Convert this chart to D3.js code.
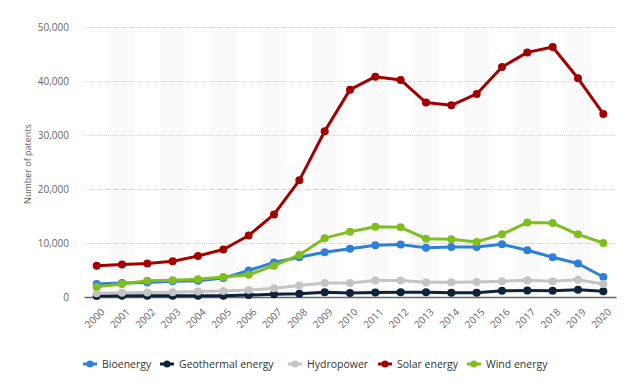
<!DOCTYPE html>
<html>
<head>
<meta charset="utf-8">
<script src="https://cdn.jsdelivr.net/npm/d3@7"></script>
<style>
  body { margin: 0; background: #fff; font-family: "Open Sans", sans-serif; }
</style>
</head>
<body>
<div id="chart"></div>
<script>
const years = ["2000","2001","2002","2003","2004","2005","2006","2007","2008","2009","2010",
  "2011","2012","2013","2014","2015","2016","2017","2018","2019","2020"];

const seriesNames = ["Bioenergy", "Geothermal energy", "Hydropower", "Solar energy", "Wind energy"];
const seriesColors = ["#2f7ed8", "#0d233a", "#c4c4c4", "#a30000", "#80bd1f"];

const bioenergy = [2400, 2600, 2700, 2900, 3000, 3500, 4900, 6400, 7350, 8300, 8950,
  9600, 9700, 9100, 9250, 9250, 9750, 8650, 7350, 6200, 3700];
const geothermal = [200, 250, 250, 250, 250, 250, 350, 500, 600, 900, 750,
  850, 900, 900, 800, 800, 1150, 1200, 1150, 1350, 1050];
const hydropower = [700, 800, 850, 900, 1000, 1100, 1300, 1600, 2150, 2600, 2600,
  3050, 3050, 2750, 2750, 2800, 2900, 3100, 2900, 3200, 2400];
const solar = [5800, 6000, 6200, 6600, 7600, 8800, 11400, 15300, 21600, 30700, 38400,
  40800, 40200, 36000, 35500, 37600, 42600, 45300, 46300, 40500, 33900];
const wind = [1900, 2400, 3000, 3100, 3300, 3700, 4100, 5800, 7800, 10900, 12100,
  13000, 12900, 10800, 10700, 10200, 11600, 13800, 13700, 11600, 10000];

const yTicks = [0, 10000, 20000, 30000, 40000, 50000];
const seriesValues = [bioenergy, geothermal, hydropower, solar, wind];

let width = 624, height = 385;
let margin = {top: 27, right: 8, bottom: 87, left: 84};

let svg = d3.select("#chart").append("svg")
    .attr("width", width)
    .attr("height", height);

let x = d3.scaleBand()
    .domain(years)
    .range([margin.left, width - margin.right]);

let y = d3.scaleLinear()
    .domain([0, 50000])
    .range([height - margin.bottom - 1, margin.top]);

// alternating column shading
svg.append("g")
    .selectAll("rect")
    .data(years.filter((d, i) => i % 2 == 1))
    .join("rect")
    .attr("x", d => x(d))
    .attr("y", margin.top)
    .attr("width", x.bandwidth())
    .attr("height", y(0) - margin.top)
    .attr("fill", "#fafafa");

// grid lines
svg.append("g")
    .selectAll("line")
    .data(yTicks.filter(d => d > 0))
    .join("line")
    .attr("x1", margin.left)
    .attr("x2", width - margin.right)
    .attr("y1", d => Math.round(y(d)) + 0.5)
    .attr("y2", d => Math.round(y(d)) + 0.5)
    .attr("stroke", "#d8d8d8")
    .attr("stroke-dasharray", "1,1");

// y axis
let yAxis = svg.append("g")
    .attr("transform", `translate(${margin.left - 12},0)`)
    .call(d3.axisLeft(y).tickValues(yTicks).tickSize(0).tickFormat(d3.format(",")));
yAxis.select(".domain").remove();
yAxis.selectAll("text")
    .attr("fill", "#666")
    .style("font-size", "10px")
    .style("font-family", "Open Sans");

svg.append("text")
    .attr("transform", "translate(31,164) rotate(-90)")
    .attr("text-anchor", "middle")
    .attr("fill", "#666")
    .style("font-size", "9px")
    .text("Number of patents");

// x axis
let xAxis = svg.append("g")
    .attr("transform", `translate(0,${y(0)})`)
    .call(d3.axisBottom(x).tickSize(0));
xAxis.select(".domain")
    .attr("stroke", "#666")
    .attr("stroke-width", 1.5);
xAxis.selectAll("text")
    .attr("fill", "#666")
    .style("font-size", "10px")
    .style("font-family", "Open Sans")
    .attr("text-anchor", "end")
    .attr("dy", "0.35em")
    .attr("transform", "translate(4,11) rotate(-45)");

// lines
let line = d3.line()
    .x((d, i) => x(years[i]) + x.bandwidth() / 2)
    .y(d => y(d));

let groups = svg.append("g")
    .selectAll("g")
    .data(seriesValues)
    .join("g");

groups.append("path")
    .attr("d", d => line(d))
    .attr("fill", "none")
    .attr("stroke", (d, i) => seriesColors[i])
    .attr("stroke-width", 3)
    .attr("stroke-linejoin", "round");

groups.each(function(vals, si) {
    d3.select(this).selectAll("circle")
        .data(vals)
        .join("circle")
        .attr("cx", (d, i) => x(years[i]) + x.bandwidth() / 2)
        .attr("cy", d => y(d))
        .attr("r", 4)
        .attr("fill", seriesColors[si]);
});

// legend
let legendX = [83, 160, 288, 378, 467];
let legend = svg.append("g")
    .selectAll("g")
    .data(seriesNames)
    .join("g")
    .attr("transform", (d, i) => `translate(${legendX[i]},364)`);
legend.append("line")
    .attr("x1", 0).attr("x2", 14)
    .attr("stroke", (d, i) => seriesColors[i])
    .attr("stroke-width", 3);
legend.append("circle")
    .attr("cx", 7).attr("r", 3.5)
    .attr("fill", (d, i) => seriesColors[i]);
legend.append("text")
    .attr("x", 19)
    .attr("dy", "0.35em")
    .attr("fill", "#333")
    .style("font-size", "10.5px")
    .text(d => d);
</script>
</body>
</html>
